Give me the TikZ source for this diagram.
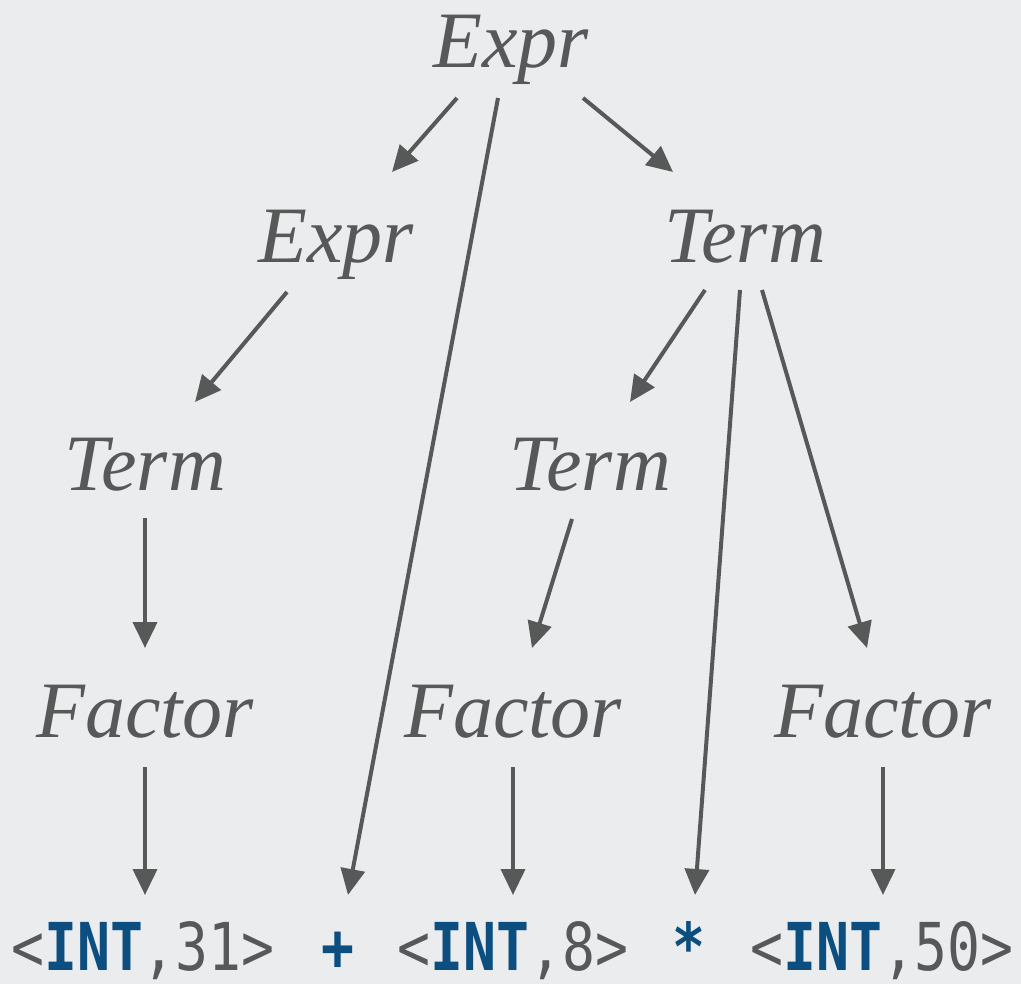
\documentclass[tikz,border=0pt]{standalone}
\usepackage{fontspec}
\setmainfont{Liberation Serif}
\newfontfamily\tokfont[FakeStretch=0.83]{DejaVu Sans Mono}
\usetikzlibrary{arrows.meta,calc}
\definecolor{bg}{HTML}{EAECEE}
\definecolor{ink}{HTML}{575959}
\definecolor{tokblue}{HTML}{0D4E80}
\newcommand{\kw}[1]{\textcolor{tokblue}{\bfseries #1}}
\tikzset{
  nt/.style={font=\fontsize{80}{80}\selectfont\itshape, text=ink, anchor=base, inner sep=0pt},
  tok/.style={font=\fontsize{66}{66}\selectfont\tokfont, text=ink, anchor=base, inner sep=0pt},
  edge/.style={draw=ink, line width=4pt, -{Triangle[length=26pt,width=24pt]}},
}
\begin{document}
\begin{tikzpicture}[x=1pt,y=-1pt]
\fill[bg] (0,0) rectangle (1021,984);
\useasboundingbox (0,0) rectangle (1021,984);
% nonterminals
\node[nt] (e0) at (511,68) {Expr};
\node[nt] (e1) at (336,263) {Expr};
\node[nt] (t1) at (745,263) {Term};
\node[nt] (t2) at (145,490) {Term};
\node[nt] (t3) at (590,490) {Term};
\node[nt] (f1) at (145,737) {Factor};
\node[nt] (f2) at (513,737) {Factor};
\node[nt] (f3) at (883,737) {Factor};
% tokens
\node[tok] (k1) at (143,970) {<\kw{INT},31>};
\node[tok] (kp) at (338,970) {\kw{+}};
\node[tok] (k2) at (513,970) {<\kw{INT},8>};
\node[tok] (ks) at (689,970) {\kw{*}};
\node[tok] (k3) at (882,970) {<\kw{INT},50>};
% connector end points
\coordinate (e0a) at (457,98);  \coordinate (e1in) at (392,172);
\coordinate (e0b) at (498,98);  \coordinate (kpin) at (348,895);
\coordinate (e0c) at (583,98);  \coordinate (t1in) at (673,172);
\coordinate (e1a) at (287,292); \coordinate (t2in) at (195,402);
\coordinate (t1a) at (705,290); \coordinate (t3in) at (630,402);
\coordinate (t1b) at (740,290); \coordinate (ksin) at (695,895);
\coordinate (t1c) at (762,290); \coordinate (f3in) at (867,648);
\coordinate (t2a) at (145,518); \coordinate (f1in) at (145,648);
\coordinate (t3a) at (572,519); \coordinate (f2in) at (532,648);
\coordinate (f1a) at (145,767); \coordinate (k1in) at (145,895);
\coordinate (f2a) at (513,767); \coordinate (k2in) at (513,895);
\coordinate (f3a) at (883,767); \coordinate (k3in) at (883,895);
% connectors
\draw[edge] (e0a) -- (e1in);
\draw[edge] (e0b) -- (kpin);
\draw[edge] (e0c) -- (t1in);
\draw[edge] (e1a) -- (t2in);
\draw[edge] (t1a) -- (t3in);
\draw[edge] (t1b) -- (ksin);
\draw[edge] (t1c) -- (f3in);
\draw[edge] (t2a) -- (f1in);
\draw[edge] (t3a) -- (f2in);
\draw[edge] (f1a) -- (k1in);
\draw[edge] (f2a) -- (k2in);
\draw[edge] (f3a) -- (k3in);
\end{tikzpicture}
\end{document}
